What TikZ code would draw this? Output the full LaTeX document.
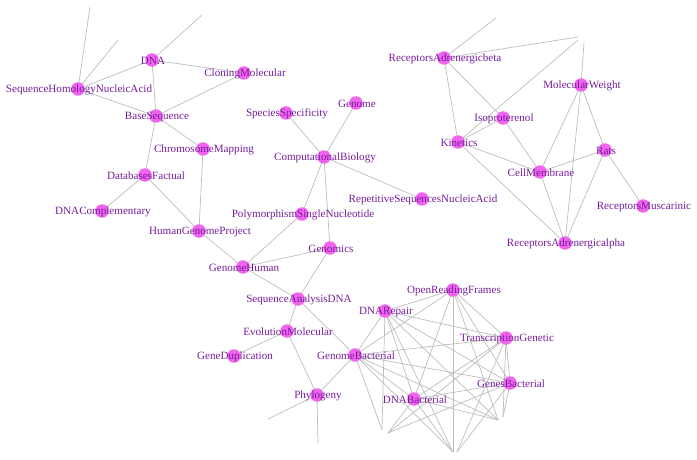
\documentclass[tikz,border=0pt]{standalone}
\usepackage{fontspec}
\setmainfont{Liberation Serif}
\definecolor{edgec}{HTML}{BDBDBD}
\definecolor{nodec}{HTML}{F064F0}
\definecolor{labc}{HTML}{761C9A}
\begin{document}
\begin{tikzpicture}[x=1pt,y=-1pt,
  vert/.style={circle,fill=nodec,draw=none,minimum size=13.5pt,inner sep=0pt},
  lab/.style={text=labc,font=\fontsize{11.1}{13}\selectfont,inner sep=0pt,anchor=center,yshift=-1pt,xshift=1pt},
  edge/.style={draw=edgec,line width=0.7pt}]
\useasboundingbox (0,0) rectangle (697,460);
% nodes: name/x/y/label
\def\nodelist{DNA/152/60/DNA,
SHNA/78/89/SequenceHomologyNucleicAcid,
CM/244/73/CloningMolecular,
BS/156/116/BaseSequence,
ChM/203/149/ChromosomeMapping,
DF/145/175/DatabasesFactual,
DC/102/211/DNAComplementary,
HGP/199/231/HumanGenomeProject,
SS/286/113/SpeciesSpecificity,
Gen/356/103/Genome,
CB/324/157/ComputationalBiology,
RSN/422/199/RepetitiveSequencesNucleicAcid,
PSN/302/214/PolymorphismSingleNucleotide,
Gs/330/248/Genomics,
GH/243/267/GenomeHuman,
SAD/298/299/SequenceAnalysisDNA,
EM/287/331/EvolutionMolecular,
GD/234/356/GeneDuplication,
GB/355/355/GenomeBacterial,
Ph/317/395/Phylogeny,
ORF/453/290/OpenReadingFrames,
DR/385/311/DNARepair,
TG/506/338/TranscriptionGenetic,
GnB/510/383/GenesBacterial,
DB/414/399/DNABacterial,
RAb/444/58/ReceptorsAdrenergicbeta,
MW/581/85/MolecularWeight,
Iso/503/118/Isoproterenol,
Kin/458/142/Kinetics,
Rats/605/150/Rats,
CMem/540/172/CellMembrane,
RM/643/206/ReceptorsMuscarinic,
RAa/565/243/ReceptorsAdrenergicalpha}
\foreach \n/\x/\y/\t in \nodelist {\coordinate (\n) at (\x,\y);}
% free ends
\coordinate (f1) at (90,7);
\coordinate (f2) at (118,40);
\coordinate (f3) at (202,15);
\coordinate (f4) at (496,18);
\coordinate (f5) at (578,37);
\coordinate (f6) at (578,40);
\coordinate (f7) at (584,43);
\coordinate (f8) at (268,419);
\coordinate (f9) at (318,443);
\coordinate (bl1) at (382,430);
\coordinate (bl2) at (388,433);
\coordinate (bc1) at (453,452);
\coordinate (bc2) at (457,452);
\coordinate (br1) at (498,420);
\coordinate (br2) at (503,417);
% edges
\foreach \a/\b in {SHNA/DNA,SHNA/BS,SHNA/f1,SHNA/f2,DNA/CM,DNA/BS,DNA/f3,CM/BS,
BS/ChM,BS/DF,ChM/HGP,DF/DC,DF/HGP,HGP/GH,GH/PSN,GH/Gs,GH/SAD,PSN/CB,
CB/SS,CB/Gen,CB/RSN,CB/Gs,Gs/SAD,SAD/EM,SAD/GB,EM/GD,EM/Ph,Ph/GB,Ph/f8,Ph/f9,
ORF/DR,ORF/GB,ORF/TG,ORF/GnB,ORF/DB,DR/TG,DR/GnB,DR/GB,DR/DB,GB/TG,GB/GnB,GB/DB,
DB/TG,DB/GnB,TG/GnB,
DR/bl1,GB/bl1,DB/bl2,GnB/bl2,TG/bl2,
GB/bc1,DR/bc1,DB/bc1,ORF/bc1,TG/bc2,GnB/bc2,
ORF/br1,DR/br1,GB/br1,DB/br1,TG/br2,GnB/br2,
RAb/f4,RAb/f5,RAb/Kin,RAb/Iso,Kin/Iso,Kin/f6,Kin/CMem,Kin/RAa,Iso/CMem,
MW/f7,MW/CMem,MW/RAa,MW/Rats,Rats/CMem,Rats/RAa,Rats/RM,CMem/RAa}
{\path[edge] (\a) -- (\b);}
% circles
\foreach \n/\x/\y/\t in \nodelist {\node[vert] (c\n) at (\n) {};}
% labels
\foreach \n/\x/\y/\t in \nodelist {\node[lab] (l\n) at (\n) {\t};}
\end{tikzpicture}
\end{document}
